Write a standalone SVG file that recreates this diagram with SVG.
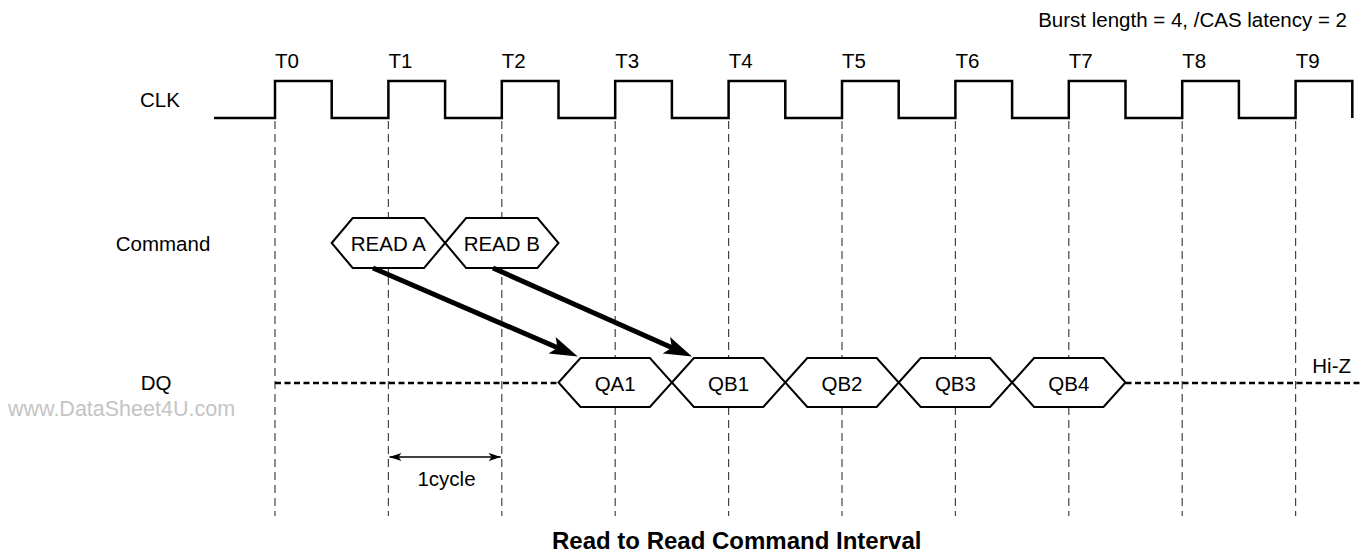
<svg xmlns="http://www.w3.org/2000/svg" width="1361" height="554" viewBox="0 0 1361 554">
<style>
text{font-family:"Liberation Sans",Arial,sans-serif;font-size:20.5px;fill:#000}
.c{text-anchor:middle}
.e{text-anchor:end}
.grid{stroke:#444;stroke-width:1.2;stroke-dasharray:8 5;fill:none}
.hex{fill:#fff;stroke:#000;stroke-width:2}
.clk{fill:none;stroke:#000;stroke-width:2.5}
.hiz{fill:none;stroke:#000;stroke-width:2.5;stroke-dasharray:6 3.5}
.big{fill:none;stroke:#000;stroke-width:5}
.thin{fill:none;stroke:#000;stroke-width:1.5}
</style>
<defs>
<marker id="ah" viewBox="0 -10 28 20" markerWidth="28" markerHeight="20" markerUnits="userSpaceOnUse" refX="13" refY="0" orient="auto">
<path d="M0,-9 L28,0 L0,9 L6,0 Z" fill="#000"/>
</marker>
<marker id="sa" viewBox="0 -5 12 10" markerWidth="12" markerHeight="10" markerUnits="userSpaceOnUse" refX="12" refY="0" orient="auto-start-reverse">
<path d="M0,-4 L12,0 L0,4 L3,0 Z" fill="#000"/>
</marker>
</defs>
<g id="grid">
<path class="grid" d="M275,121V516M388.4,121V516M501.8,121V516M615.2,121V516M728.6,121V516M842,121V516M955.4,121V516M1068.8,121V516M1182.2,121V516M1295.6,121V516"/>
</g>
<g id="clk">
<path class="clk" d="M214,118H275V81H331.7V118H388.4V81H445.1V118H501.8V81H558.5V118H615.2V81H671.9V118H728.6V81H785.3V118H842V81H898.7V118H955.4V81H1012.1V118H1068.8V81H1125.5V118H1182.2V81H1238.9V118H1295.6V81H1352.3V118"/>
<text class="c" x="160" y="107">CLK</text>
<text class="c" x="287" y="68">T0</text>
<text class="c" x="400.4" y="68">T1</text>
<text class="c" x="513.8" y="68">T2</text>
<text class="c" x="627.2" y="68">T3</text>
<text class="c" x="740.6" y="68">T4</text>
<text class="c" x="854" y="68">T5</text>
<text class="c" x="967.4" y="68">T6</text>
<text class="c" x="1080.8" y="68">T7</text>
<text class="c" x="1194.2" y="68">T8</text>
<text class="c" x="1307.6" y="68">T9</text>
</g>
<g id="dq-line">
<path class="hiz" d="M275,383H558.5M1125.5,383H1361"/>
<text class="c" x="156" y="390">DQ</text>
<text class="e" x="1351" y="373">Hi-Z</text>
</g>
<g id="command">
<text class="c" x="163" y="251">Command</text>
</g>
<g id="readA">
<path class="hex" d="M331.7,243L352.7,218L424.1,218L445.1,243L424.1,268L352.7,268Z"/>
<text class="c" x="388.4" y="251">READ A</text>
</g>
<g id="readB">
<path class="hex" d="M445.1,243L466.1,218L537.5,218L558.5,243L537.5,268L466.1,268Z"/>
<text class="c" x="501.8" y="251">READ B</text>
</g>
<g id="qa1">
<path class="hex" d="M558.5,382.5L580.5,358L649.9,358L671.9,382.5L649.9,407L580.5,407Z"/>
<text class="c" x="615.2" y="391">QA1</text>
</g>
<g id="qb1">
<path class="hex" d="M671.9,382.5L693.9,358L763.3,358L785.3,382.5L763.3,407L693.9,407Z"/>
<text class="c" x="728.6" y="391">QB1</text>
</g>
<g id="qb2">
<path class="hex" d="M785.3,382.5L807.3,358L876.7,358L898.7,382.5L876.7,407L807.3,407Z"/>
<text class="c" x="842" y="391">QB2</text>
</g>
<g id="qb3">
<path class="hex" d="M898.7,382.5L920.7,358L990.1,358L1012.1,382.5L990.1,407L920.7,407Z"/>
<text class="c" x="955.4" y="391">QB3</text>
</g>
<g id="qb4">
<path class="hex" d="M1012.1,382.5L1034.1,358L1103.5,358L1125.5,382.5L1103.5,407L1034.1,407Z"/>
<text class="c" x="1068.8" y="391">QB4</text>
</g>
<g id="connectors">
<line class="big" x1="373" y1="268" x2="564" y2="350.5" marker-end="url(#ah)"/>
<line class="big" x1="493" y1="268" x2="678.3" y2="350.5" marker-end="url(#ah)"/>
<line class="thin" x1="389.5" y1="457" x2="500.7" y2="457" marker-start="url(#sa)" marker-end="url(#sa)"/>
</g>
<g id="labels">
<text class="c" x="446.5" y="486">1cycle</text>
<text class="e" x="1347" y="27">Burst length = 4, /CAS latency = 2</text>
<text x="8" y="416" style="font-size:21.5px;fill:#c4c4c4">www.DataSheet4U.com</text>
<text x="552" y="549" style="font-size:24px;font-weight:bold">Read to Read Command Interval</text>
</g>
</svg>
